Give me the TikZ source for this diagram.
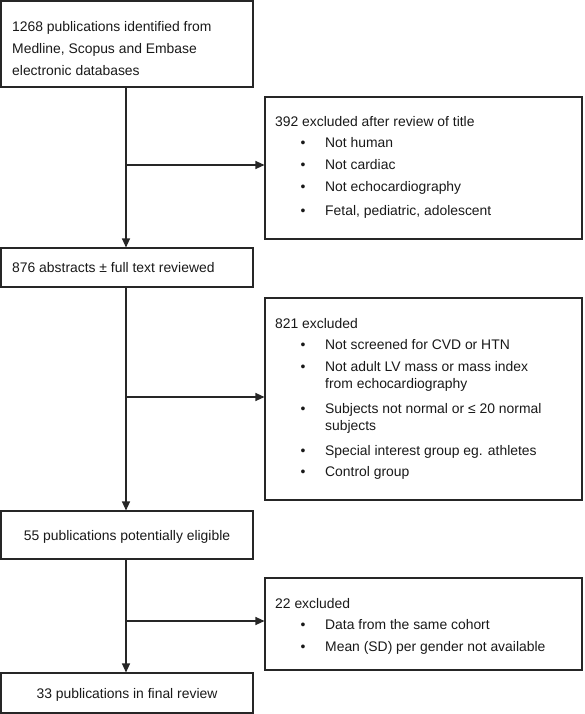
\documentclass[tikz,border=0pt]{standalone}
\usepackage{fontspec}
\setmainfont{Liberation Sans}
\usetikzlibrary{arrows.meta}
\begin{document}
\begin{tikzpicture}[x=1pt,y=-1pt,
  box/.style={draw=black!85, line width=1.1pt, inner sep=0pt},
  txt/.style={anchor=base west, inner sep=0pt, font=\fontsize{13.9pt}{16pt}\selectfont, text=black!90},
  ctxt/.style={anchor=base, inner sep=0pt, font=\fontsize{13.9pt}{16pt}\selectfont, text=black!90},
  bul/.style={anchor=base, inner sep=0pt, font=\fontsize{13.9pt}{16pt}\selectfont, text=black!90},
  arr/.style={draw=black!85, line width=1.1pt, -{Triangle[length=9pt,width=8pt]}}]
\useasboundingbox (0,0) rectangle (584,714);
% boxes
\node[box, minimum width=252pt, minimum height=86pt] (b1) at (127,44) {};
\node[box, minimum width=317pt, minimum height=142pt] (b2) at (423.5,168) {};
\node[box, minimum width=252pt, minimum height=39pt] (b3) at (127,267.5) {};
\node[box, minimum width=317pt, minimum height=202pt] (b4) at (423.5,399) {};
\node[box, minimum width=252pt, minimum height=48pt] (b5) at (127,535) {};
\node[box, minimum width=317pt, minimum height=92pt] (b6) at (423.5,624) {};
\node[box, minimum width=252pt, minimum height=40pt] (b7) at (127,693) {};
% texts box 1
\node[txt] (t1a) at (12,32) {1268 publications identified from};
\node[txt] (t1b) at (12,54) {Medline, Scopus and Embase};
\node[txt] (t1c) at (12,76) {electronic databases};
% box 2
\node[txt] (t2) at (275,127) {392 excluded after review of title};
\node[bul] (u2a) at (303,148) {•}; \node[txt] (t2a) at (325,148) {Not human};
\node[bul] (u2b) at (303,170) {•}; \node[txt] (t2b) at (325,170) {Not cardiac};
\node[bul] (u2c) at (303,192) {•}; \node[txt] (t2c) at (325,192) {Not echocardiography};
\node[bul] (u2d) at (303,215) {•}; \node[txt] (t2d) at (325,215) {Fetal, pediatric, adolescent};
% box 3
\node[txt] (t3) at (12,272) {876 abstracts ± full text reviewed};
% box 4
\node[txt] (t4) at (275,328) {821 excluded};
\node[bul] (u4a) at (303,349) {•}; \node[txt] (t4a) at (325,349) {Not screened for CVD or HTN};
\node[bul] (u4b) at (303,371) {•}; \node[txt] (t4b) at (325,371) {Not adult LV mass or mass index};
\node[txt] (t4b2) at (325,388) {from echocardiography};
\node[bul] (u4c) at (303,413) {•}; \node[txt] (t4c) at (325,413) {Subjects not normal or ≤ 20 normal};
\node[txt] (t4c2) at (325,430) {subjects};
\node[bul] (u4d) at (303,455) {•}; \node[txt] (t4d) at (325,455) {Special interest group eg. athletes};
\node[bul] (u4e) at (303,476) {•}; \node[txt] (t4e) at (325,476) {Control group};
% box 5
\node[ctxt] (t5) at (127,540) {55 publications potentially eligible};
% box 6
\node[txt] (t6) at (275,608) {22 excluded};
\node[bul] (u6a) at (303,629) {•}; \node[txt] (t6a) at (325,629) {Data from the same cohort};
\node[bul] (u6b) at (303,651) {•}; \node[txt] (t6b) at (325,651) {Mean (SD) per gender not available};
% box 7
\node[ctxt] (t7) at (127,698) {33 publications in final review};
% connectors
\coordinate (j1) at (126,165);
\coordinate (j2) at (126,397);
\coordinate (j3) at (126,621);
\draw[arr] (b1.south -| j1) -- (b3.north -| j1);
\draw[arr] (j1) -- (j1 -| b2.west);
\draw[arr] (b3.south -| j2) -- (b5.north -| j2);
\draw[arr] (j2) -- (j2 -| b4.west);
\draw[arr] (b5.south -| j3) -- (b7.north -| j3);
\draw[arr] (j3) -- (j3 -| b6.west);
\end{tikzpicture}
\end{document}
